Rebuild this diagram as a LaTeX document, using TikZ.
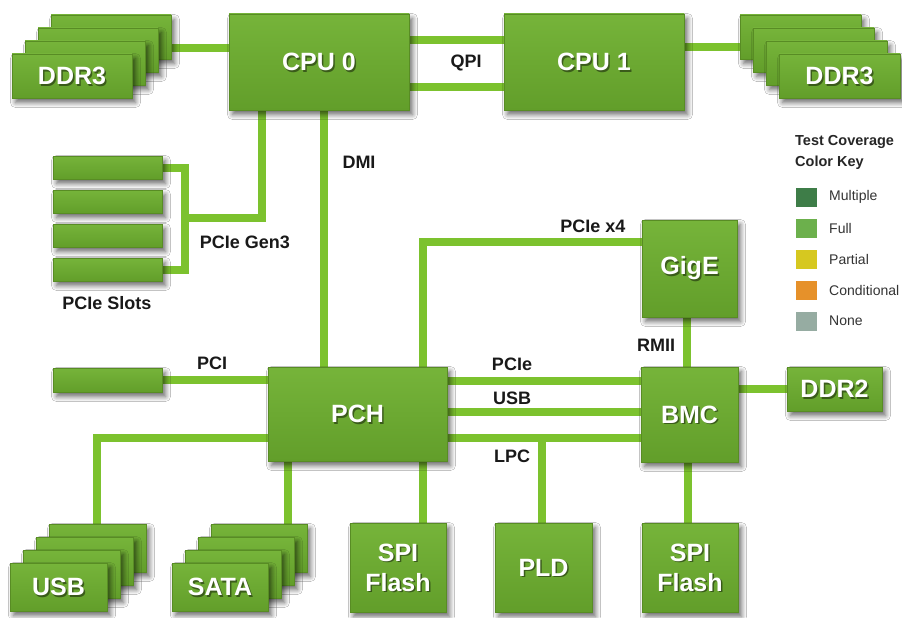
\documentclass[tikz,border=0pt]{standalone}
\usepackage{fontspec}
\setmainfont{Liberation Sans}
\usetikzlibrary{fit,backgrounds,shadows.blur}
\definecolor{boxg}{RGB}{106,168,48}
\definecolor{boxtop}{RGB}{118,180,58}
\definecolor{boxbot}{RGB}{98,158,42}
\definecolor{boxedge}{RGB}{88,140,36}
\definecolor{lineg}{RGB}{124,194,46}
\definecolor{cMult}{RGB}{62,125,72}
\definecolor{cFull}{RGB}{108,176,76}
\definecolor{cPart}{RGB}{214,200,32}
\definecolor{cCond}{RGB}{230,145,42}
\definecolor{cNone}{RGB}{150,172,162}
\tikzset{
  gbox/.style={inner sep=0pt, outer sep=0pt, draw=boxedge, line width=0.6pt,
    top color=boxtop, bottom color=boxbot,
    blur shadow={shadow xshift=3.5pt, shadow yshift=-4.5pt, shadow blur steps=8, shadow blur radius=5pt, shadow opacity=60}},
  btxt/.style={text=white, font=\bfseries\fontsize{25}{30}\selectfont, align=center, inner sep=0pt},
  tsh/.style={text=black, opacity=0.45, font=\bfseries\fontsize{25}{30}\selectfont, align=center, inner sep=0pt},
  lbl/.style={text=black!90, font=\bfseries\fontsize{18}{20}\selectfont, inner sep=0pt},
  ln/.style={draw=lineg, line width=8pt},
  sw/.style={minimum width=21pt, minimum height=19pt, inner sep=0pt},
  legt/.style={text=black!80, font=\fontsize{14}{16}\selectfont, anchor=west, inner sep=0pt},
}
\newcommand\gb[6]{%
  \node[gbox, fit={(#2,#3) (#4,#5)}] (#1) {};
  \node[tsh] (#1s) at ([shift={(1.5pt,-1.5pt)}]#1.center) {#6};
  \node[btxt] (#1t) at (#1.center) {#6};}
\newcommand\stk[7]{% name, x, y, w, h, dx, text
  \foreach \i in {3,2,1} {\node[gbox, fit={({#2+\i*(#6)},{#3-\i*13}) ({#2+\i*(#6)+#4},{#3-\i*13+#5})}] (#1\i) {};}
  \gb{#1}{#2}{#3}{#2+#4}{#3+#5}{#7}}
\begin{document}
\begin{tikzpicture}[x=1pt,y=-1pt]
\useasboundingbox (0,0) rectangle (902,618);
% boxes
\gb{cpu0}{229}{14}{409}{110}{CPU 0}
\gb{cpu1}{504}{14}{684}{110}{CPU 1}
\stk{ddrL}{12}{54}{120}{44}{13}{DDR3}
\stk{ddrR}{779}{54}{121}{44}{-13}{DDR3}
\node[gbox, fit={(53,156) (162,179)}] (slot1) {};
\node[gbox, fit={(53,190) (162,213)}] (slot2) {};
\node[gbox, fit={(53,224) (162,247)}] (slot3) {};
\node[gbox, fit={(53,258) (162,281)}] (slot4) {};
\node[gbox, fit={(53,368) (162,392)}] (pci) {};
\gb{pch}{268}{367}{447}{461}{PCH}
\gb{gige}{642}{220}{737}{317}{GigE}
\gb{bmc}{641}{367}{738}{462}{BMC}
\gb{ddr2}{787}{367}{882}{411}{DDR2}
\stk{usb}{10}{563}{97}{48}{13}{USB}
\stk{sata}{172}{563}{96}{48}{13}{SATA}
\gb{spia}{350}{523}{446}{612}{SPI\\Flash}
\gb{pld}{495}{523}{592}{612}{PLD}
\gb{spib}{642}{523}{738}{612}{SPI\\Flash}
% helper coordinates
\coordinate (hDDRL) at (0,48);
\coordinate (hDDRR) at (0,47);
\coordinate (hQPIa) at (0,40);
\coordinate (hQPIb) at (0,87);
\coordinate (jGen3) at (262,218);
\coordinate (jBr) at (185,218);
\coordinate (vDMI) at (324,0);
\coordinate (jX4) at (423,242);
\coordinate (jUSB) at (97,438);
\coordinate (vSATA) at (288,0);
\coordinate (vSPIa) at (423,0);
\coordinate (hPCIe) at (0,381);
\coordinate (hUSB) at (0,412);
\coordinate (hLPC) at (0,438);
\coordinate (jLPC) at (542,438);
\coordinate (vRMII) at (687,0);
\coordinate (hDDRtwo) at (0,389);
\coordinate (vSPIb) at (688,0);
\begin{pgfonlayer}{background}
\fill[white] (0,0) rectangle (902,618);
\draw[ln] (ddrL3.east |- hDDRL) -- (cpu0.west |- hDDRL);
\draw[ln] (cpu1.east |- hDDRR) -- (ddrR3.west |- hDDRR);
\draw[ln] (cpu0.east |- hQPIa) -- (cpu1.west |- hQPIa);
\draw[ln] (cpu0.east |- hQPIb) -- (cpu1.west |- hQPIb);
\draw[ln] (cpu0.south -| jGen3) -- (jGen3) -- (jBr);
\draw[ln] (slot1.east) -| (jBr) |- (slot4.east);
\draw[ln] (cpu0.south -| vDMI) -- (pch.north -| vDMI);
\draw[ln] (pch.north -| jX4) -- (jX4) -- (jX4 -| gige.west);
\draw[ln] (pci.east) -- (pci.east -| pch.west);
\draw[ln] (pch.west |- jUSB) -- (jUSB) -- (jUSB |- usb3.north);
\draw[ln] (pch.south -| vSATA) -- (sata3.north -| vSATA);
\draw[ln] (pch.south -| vSPIa) -- (spia.north -| vSPIa);
\draw[ln] (pch.east |- hPCIe) -- (bmc.west |- hPCIe);
\draw[ln] (pch.east |- hUSB) -- (bmc.west |- hUSB);
\draw[ln] (pch.east |- hLPC) -- (bmc.west |- hLPC);
\draw[ln] (jLPC) -- (pld.north -| jLPC);
\draw[ln] (gige.south -| vRMII) -- (bmc.north -| vRMII);
\draw[ln] (bmc.east |- hDDRtwo) -- (ddr2.west |- hDDRtwo);
\draw[ln] (bmc.south -| vSPIb) -- (spib.north -| vSPIb);
\end{pgfonlayer}
% labels
\node[lbl] (lQPI) at (466,63) {QPI};
\node[lbl] (lDMI) at (359,162) {DMI};
\node[lbl] (lGen3) at (245,242) {PCIe Gen3};
\node[lbl] (lSlots) at (107,303) {PCIe Slots};
\node[lbl] (lPCI) at (212,363) {PCI};
\node[lbl] (lX4) at (593,226) {PCIe x4};
\node[lbl] (lRMII) at (656,345) {RMII};
\node[lbl] (lPCIe) at (512,364) {PCIe};
\node[lbl] (lUSB) at (512,398) {USB};
\node[lbl] (lLPC) at (512,456) {LPC};
% legend
\node[legt, font=\bfseries\fontsize{14.5}{16}\selectfont, text=black!85] (legA) at (795,142) {Test Coverage};
\node[legt, font=\bfseries\fontsize{14.5}{16}\selectfont, text=black!85] (legB) at (795,163) {Color Key};
\node[sw, fill=cMult] (swM) at (806.5,197) {};
\node[sw, fill=cFull] (swF) at (806.5,228) {};
\node[sw, fill=cPart] (swP) at (806.5,259) {};
\node[sw, fill=cCond] (swC) at (806.5,290) {};
\node[sw, fill=cNone] (swN) at (806.5,321) {};
\node[legt] (tM) at (829,197) {Multiple};
\node[legt] (tF) at (829,228) {Full};
\node[legt] (tP) at (829,259) {Partial};
\node[legt] (tC) at (829,290) {Conditional};
\node[legt] (tN) at (829,321) {None};
\end{tikzpicture}
\end{document}
